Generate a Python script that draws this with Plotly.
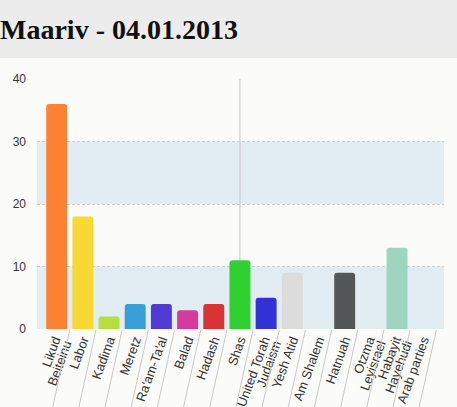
import plotly.graph_objects as go

# ---- data ----
parties = ["Likud\nBeiteinu", "Labor", "Kadima", "Meretz", "Ra'am-Ta'al", "Balad",
           "Hadash", "Shas", "United Torah\nJudaism", "Yesh Atid", "Am Shalem",
           "Hatnuah", "Otzma\nLeyisrael", "Habayit\nHayehudi", "Arab parties"]
seats = [36, 18, 2, 4, 4, 3, 4, 11, 5, 9, 0, 9, 0, 13, 0]
colors = ["#fb8233", "#f7d834", "#b5e03c", "#3a9fd9", "#5139d4", "#d73a9c",
          "#d73333", "#30d030", "#3131d6", "#dcdcdc", "#cccccc", "#535757",
          "#cccccc", "#9dd5c0", "#cccccc"]
y_ticks = [0, 10, 20, 30, 40]
title_text = "Maariv - 04.01.2013"
hover_category = "Shas"

# ---- geometry (pixels) ----
W, H = 457, 407
L, R, T, B = 37, 13, 79, 78
pw, ph = W - L - R, H - T - B
XR = [-0.752, 14.794]


def px_x(p):
    return (p - L) / pw


def px_y(p):
    return (H - B - p) / ph


idx = list(range(len(parties)))
lines = [p.split("\n") for p in parties]
single_text = [ln[0] if len(ln) == 1 else "" for ln in lines]
first_text = [ln[0] if len(ln) > 1 else "" for ln in lines]
second_text = [ln[1] if len(ln) > 1 else "" for ln in lines]

fig = go.Figure()
fig.add_trace(go.Bar(
    x=idx, y=seats,
    marker=dict(color=colors, line=dict(width=0), cornerradius=3),
    width=0.8, hoverinfo="skip",
))
# invisible carriers for the extra label axes
for ax in ["x2", "x3"]:
    fig.add_trace(go.Bar(x=idx, y=seats, xaxis=ax, opacity=0, width=0.8,
                         hoverinfo="skip", showlegend=False))

shapes = []
# title bar
shapes.append(dict(type="rect", xref="paper", yref="paper",
                   x0=px_x(0), x1=px_x(W), y0=px_y(58), y1=px_y(0),
                   fillcolor="#ececec", line=dict(width=0), layer="below"))
# alternate bands
for lo, hi in [(0, 10), (20, 30)]:
    shapes.append(dict(type="rect", xref="paper", yref="y", x0=0, x1=1, y0=lo, y1=hi,
                       fillcolor="#e1ecf3", line=dict(width=0), layer="below"))
# hover crosshair
hi_idx = [p.replace("\n", " ") for p in parties].index(hover_category)
shapes.append(dict(type="line", xref="x", yref="paper", x0=hi_idx, x1=hi_idx, y0=0, y1=1,
                   line=dict(color="#c4c4c4", width=1), layer="below"))
# slanted separators between tick labels
for i in idx:
    shapes.append(dict(type="line", xref="x", yref="paper",
                       xsizemode="pixel", ysizemode="pixel",
                       xanchor=i + 0.5, yanchor=0,
                       x0=0, x1=-18, y0=-1, y1=-82,
                       line=dict(color="#c8c8c8", width=1)))

tickfont = dict(family="Liberation Sans, Arial", size=13, color="#333333")
base_x = dict(range=XR, tickmode="array", tickvals=idx, tickangle=-70,
              showgrid=False, zeroline=False, showline=False, ticks="",
              automargin=False, tickfont=tickfont, fixedrange=True)

fig.update_layout(
    width=W, height=H,
    margin=dict(l=L, r=R, t=T, b=B, autoexpand=False),
    paper_bgcolor="#fbfbf9", plot_bgcolor="rgba(0,0,0,0)",
    showlegend=False,
    shapes=shapes,
    title=dict(text=title_text, x=0, xref="container", xanchor="left",
               y=1 - 29 / H, yref="container", yanchor="middle",
               font=dict(family="Liberation Serif", size=28, color="#111111", weight="bold")),
    xaxis=dict(base_x, ticktext=single_text),
    xaxis2=dict(base_x, ticktext=first_text, overlaying="x", anchor="y", side="bottom",
                ticklabelshift=-2),
    xaxis3=dict(base_x, ticktext=second_text, overlaying="x", anchor="y", side="bottom",
                ticklabelshift=9, ticklabelstandoff=4),
    yaxis=dict(
        range=[0, 40], tickvals=y_ticks, showgrid=True, gridcolor="#cdcdcd",
        griddash="3px,2px", gridwidth=1, zeroline=False, showline=False,
        ticks="", ticklabelstandoff=10, automargin=False,
        tickfont=dict(family="Liberation Sans, Arial", size=12, color="#333333"),
        fixedrange=True,
    ),
)

fig.write_html("out.html", config={"displayModeBar": False},
               post_script="document.body.style.margin='0';document.body.style.background='#fbfbf9';")
